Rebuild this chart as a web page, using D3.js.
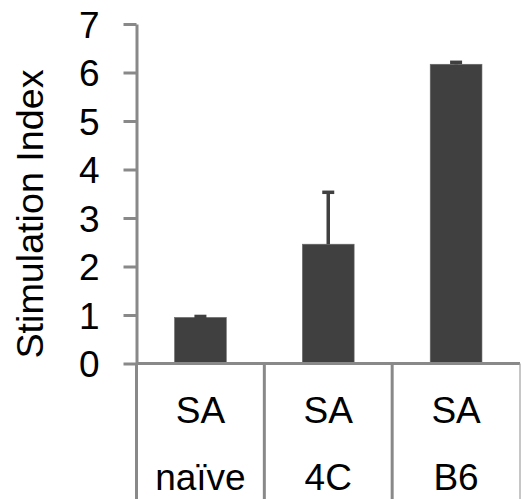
<!DOCTYPE html>
<html>
<head>
<meta charset="utf-8">
<script src="https://cdn.jsdelivr.net/npm/d3@7"></script>
<style>
  html, body { margin: 0; padding: 0; background: #fff; }
  svg { display: block; }
  text { font-family: "Liberation Sans", Arial, sans-serif; fill: #000; }
</style>
</head>
<body>
<svg id="chart" width="521" height="499"></svg>
<script>
const categories = ["naïve", "4C", "B6"];
const topLabels = ["SA", "SA", "SA"];
const values = [0.95, 2.46, 6.17];
const errors = [0.02, 1.07, 0.04];
const yTicks = [0, 1, 2, 3, 4, 5, 6, 7];
const yTitle = "Stimulation Index";

const svg = d3.select("#chart");
const W = 521, H = 499;
const axisX = 136.5, rightX = 520;
const y0 = 363.5, yTop = 24;
const axisColor = "#898989";
const fontSize = 37;

const x = d3.scaleBand().domain(categories).range([axisX, rightX]).paddingInner(0).paddingOuter(0);
const y = d3.scaleLinear().domain([0, 7]).range([y0, yTop]);
const barFrac = 0.405;

// Bars
const g = svg.append("g");
g.selectAll("rect.bar").data(values).join("rect")
  .attr("class", "bar")
  .attr("x", (d, i) => x(categories[i]) + x.bandwidth() * (1 - barFrac) / 2)
  .attr("width", x.bandwidth() * barFrac)
  .attr("y", d => y(d))
  .attr("height", d => y0 - y(d))
  .attr("fill", "#404040")
  .attr("stroke", "#6a6a6a")
  .attr("stroke-width", 0.6);

// Error bars (positive only)
const cx = i => x(categories[i]) + x.bandwidth() / 2;
g.selectAll("line.err").data(values).join("line")
  .attr("x1", (d, i) => cx(i)).attr("x2", (d, i) => cx(i))
  .attr("y1", d => y(d)).attr("y2", (d, i) => y(d + errors[i]))
  .attr("stroke", "#404040").attr("stroke-width", 3.5);
g.selectAll("line.cap").data(values).join("line")
  .attr("x1", (d, i) => cx(i) - 6).attr("x2", (d, i) => cx(i) + 6)
  .attr("y1", (d, i) => y(d + errors[i])).attr("y2", (d, i) => y(d + errors[i]))
  .attr("stroke", "#404040").attr("stroke-width", 3.5);

// Y axis
const yAxis = d3.axisLeft(y).tickValues(yTicks).tickFormat(d3.format("d"))
  .tickSize(13).tickSizeOuter(0).tickPadding(24);
const ya = svg.append("g").attr("transform", `translate(${axisX},0)`).call(yAxis);
ya.select(".domain").attr("stroke", axisColor).attr("stroke-width", 3);
ya.selectAll(".tick line").attr("stroke", axisColor).attr("stroke-width", 3);
ya.selectAll(".tick text").attr("font-size", fontSize).attr("font-family", "Liberation Sans, Arial, sans-serif")
  .attr("fill", "#000").attr("dy", "0.36em");

// Baseline + category separators
svg.append("line").attr("x1", axisX).attr("x2", rightX).attr("y1", y0).attr("y2", y0)
  .attr("stroke", axisColor).attr("stroke-width", 3);
const seps = categories.map(c => x(c));
svg.selectAll("line.sep").data(seps).join("line")
  .attr("x1", d => d).attr("x2", d => d).attr("y1", y0).attr("y2", H)
  .attr("stroke", axisColor).attr("stroke-width", 3);
svg.append("line").attr("x1", rightX).attr("x2", rightX).attr("y1", y0).attr("y2", H)
  .attr("stroke", "#a0a0a0").attr("stroke-width", 1.2);

// Category labels
svg.selectAll("text.top").data(topLabels).join("text")
  .attr("x", (d, i) => cx(i)).attr("y", 423)
  .attr("text-anchor", "middle").attr("font-size", fontSize).text(d => d);
svg.selectAll("text.bot").data(categories).join("text")
  .attr("x", (d, i) => cx(i)).attr("y", 490)
  .attr("text-anchor", "middle").attr("font-size", fontSize).text(d => d);

// Y title
svg.append("text")
  .attr("transform", `translate(42.5,214) rotate(-90)`)
  .attr("text-anchor", "middle").attr("font-size", 37.7).text(yTitle);
</script>
</body>
</html>
